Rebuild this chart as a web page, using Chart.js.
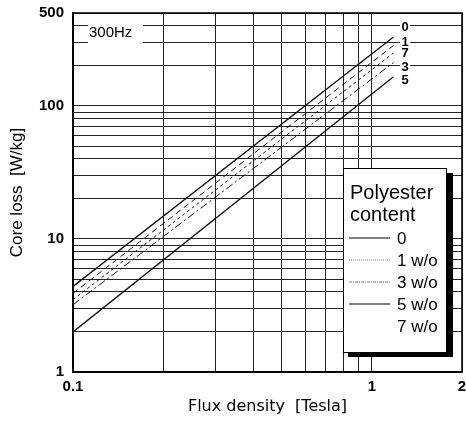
<!DOCTYPE html>
<html>
<head>
<meta charset="utf-8">
<script src="https://cdn.jsdelivr.net/npm/chart.js@4.4.1/dist/chart.umd.min.js"></script>
<style>
  html, body { margin: 0; padding: 0; background: #fff; }
  #wrap { width: 466px; height: 428px; }
</style>
</head>
<body>
<div id="wrap"><canvas id="chart" width="466" height="428"></canvas></div>
<script>
// flux density end points [Tesla] and core loss [W/kg]
let fluxDensity = [0.1, 1.18];
let loss0 = [4.4, 330];
let loss1 = [3.9, 285];
let loss7 = [3.5, 250];
let loss3 = [3.2, 212];
let loss5 = [2.0, 166];

let xGrid = [0.1, 0.2, 0.3, 0.4, 0.5, 0.6, 0.7, 0.8, 0.9, 1, 2];
let xLabels = [0.1, 1, 2];
let yGrid = [1, 2, 3, 4, 5, 6, 7, 8, 9, 10, 20, 30, 40, 50, 60, 70, 80, 90, 100, 200, 300, 400, 500];
let yLabels = [1, 10, 100, 500];

let endLabels = ["0", "1", "7", "3", "5"];
let endLabelAt = [395, 304, 251, 200, 157];

let legendNames = ["0", "1 w/o", "3 w/o", "5 w/o", "7 w/o"];

let sans = "'Liberation Sans', Arial, Helvetica, sans-serif";

function pts(ys) {
    return fluxDensity.map((x, i) => ({ x: x, y: ys[i] }));
}

function series(label, ys, dash, w) {
    return {
        label: label,
        data: pts(ys),
        borderColor: "#111",
        borderWidth: w,
        borderDash: dash,
        pointRadius: 0,
        fill: false,
        tension: 0
    };
}

// frame, 300Hz tag, curve labels and the boxed legend
let decor = {
    id: "decor",
    afterDraw(chart) {
        let ctx = chart.ctx;
        let a = chart.chartArea;
        let xs = chart.scales.x,
            ys = chart.scales.y;
        ctx.save();

        ctx.strokeStyle = "#000";
        ctx.lineWidth = 1.5;
        ctx.strokeRect(a.left, a.top, a.right - a.left, a.bottom - a.top);

        // 300Hz
        ctx.fillStyle = "#fff";
        ctx.fillRect(a.left + 15, a.top + 9, 55, 24);
        ctx.fillStyle = "#000";
        ctx.font = "15px " + sans;
        ctx.textBaseline = "middle";
        ctx.textAlign = "left";
        ctx.fillText("300Hz", a.left + 16, a.top + 20);

        // labels at the right ends of the curves
        ctx.font = "bold 13px " + sans;
        ctx.textAlign = "center";
        let lx = xs.getPixelForValue(1.29);
        endLabels.forEach((t, i) => {
            let ly = ys.getPixelForValue(endLabelAt[i]);
            ctx.fillStyle = "#fff";
            ctx.fillRect(lx - 5, ly - 6, 10, 12);
            ctx.fillStyle = "#000";
            ctx.fillText(t, lx, ly + 1);
        });

        // legend box with shadow
        let bx = 343, by = 168, bw = 103, bh = 184;
        ctx.fillStyle = "#000";
        ctx.fillRect(bx + 5, by + 5, bw + 2, bh);
        ctx.fillStyle = "#fff";
        ctx.fillRect(bx, by, bw, bh);
        ctx.strokeStyle = "#000";
        ctx.lineWidth = 1;
        ctx.strokeRect(bx + 0.5, by + 0.5, bw, bh);

        ctx.fillStyle = "#000";
        ctx.textAlign = "left";
        ctx.font = "20px " + sans;
        ctx.fillText("Polyester", bx + 7, by + 25);
        ctx.fillText("content", bx + 7, by + 47);

        ctx.font = "17px " + sans;
        let dashes = [[], [1, 1], [3, 1, 1, 1], [], null];
        legendNames.forEach((t, i) => {
            let ry = by + 70 + i * 22;
            if (dashes[i]) {
                ctx.beginPath();
                ctx.setLineDash(dashes[i]);
                ctx.lineWidth = dashes[i].length ? 0.8 : 1.2;
                ctx.strokeStyle = dashes[i].length ? "#555" : "#000";
                ctx.moveTo(bx + 6, ry);
                ctx.lineTo(bx + 47, ry);
                ctx.stroke();
                ctx.setLineDash([]);
            }
            ctx.fillText(t, bx + 54, ry + 1);
        });
        ctx.restore();
    }
};

new Chart(document.getElementById("chart"), {
    type: "line",
    data: {
        datasets: [
            series("0", loss0, [], 1.4),
            series("1 w/o", loss1, [6, 4], 1),
            series("7 w/o", loss7, [3, 3], 1),
            series("3 w/o", loss3, [8, 3, 2, 3], 1),
            series("5 w/o", loss5, [], 1.4)
        ]
    },
    options: {
        responsive: false,
        animation: false,
        layout: { padding: { top: 13, right: 4, left: 0, bottom: 0 } },
        plugins: {
            legend: { display: false },
            tooltip: { enabled: false }
        },
        scales: {
            x: {
                type: "logarithmic",
                min: 0.1,
                max: 2,
                afterBuildTicks: s => { s.ticks = xGrid.map(v => ({ value: v })); },
                afterFit: s => {
                    s.height = 56;
                    s.paddingLeft = 0;
                    s.paddingRight = 0;
                },
                grid: { color: "#222", lineWidth: 1, drawTicks: false },
                border: { color: "#000", width: 1.5 },
                ticks: {
                    autoSkip: false,
                    maxRotation: 0,
                    padding: 6,
                    color: "#000",
                    font: { family: sans, size: 15, weight: "bold" },
                    callback: v => xLabels.includes(v) ? String(v) : ""
                },
                title: {
                    display: true,
                    text: "Flux density  [Tesla]",
                    color: "#000",
                    font: { family: "'DejaVu Sans', sans-serif", size: 16 },
                    padding: { top: 0, bottom: 12 }
                }
            },
            y: {
                type: "logarithmic",
                min: 1,
                max: 500,
                afterBuildTicks: s => { s.ticks = yGrid.map(v => ({ value: v })); },
                afterFit: s => {
                    s.width = 73;
                    s.paddingTop = 0;
                    s.paddingBottom = 0;
                },
                grid: { color: "#222", lineWidth: 1, drawTicks: false },
                border: { color: "#000", width: 1.5 },
                ticks: {
                    autoSkip: false,
                    padding: 9,
                    color: "#000",
                    font: { family: sans, size: 15, weight: "bold" },
                    callback: v => yLabels.includes(v) ? String(v) : ""
                },
                title: {
                    display: true,
                    text: "Core loss  [W/kg]",
                    color: "#000",
                    font: { family: sans, size: 17 },
                    padding: { top: 7, bottom: 0 }
                }
            }
        }
    },
    plugins: [decor]
});
</script>
</body>
</html>
